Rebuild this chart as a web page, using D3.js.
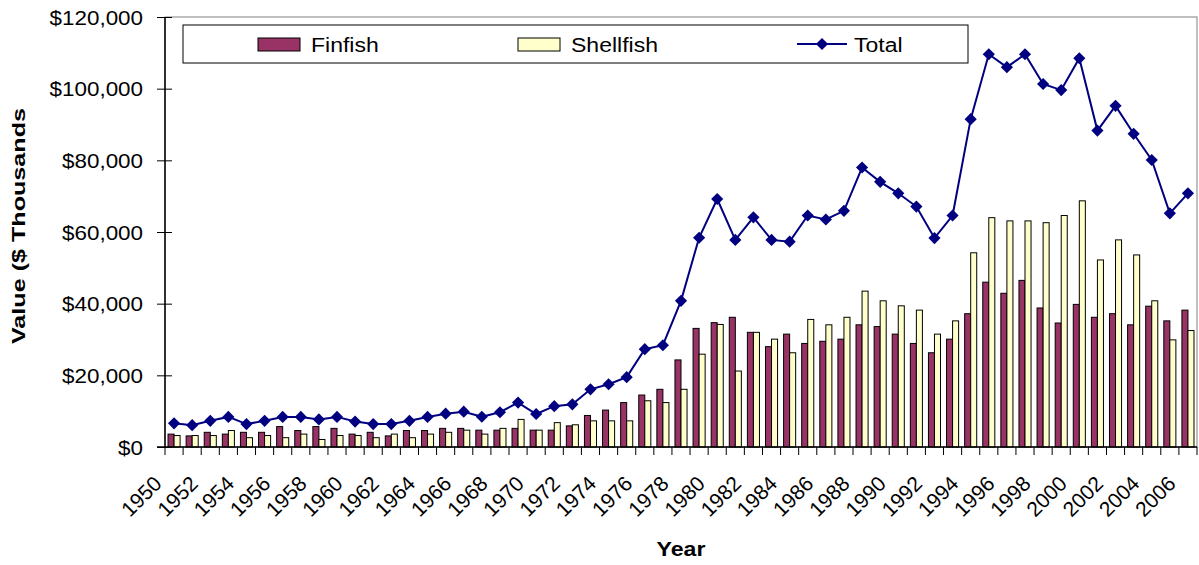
<!DOCTYPE html>
<html><head><meta charset="utf-8">
<script src="https://cdn.jsdelivr.net/npm/d3@7"></script>
<style>
body{margin:0;background:#fff}
svg{display:block}
text{font-family:"Liberation Sans",Arial,sans-serif;fill:#000}
</style>
</head><body>
<svg id="c" width="1199" height="565"></svg>
<script>
const years = [1950,1951,1952,1953,1954,1955,1956,1957,1958,1959,1960,1961,1962,1963,1964,1965,1966,1967,1968,1969,
  1970,1971,1972,1973,1974,1975,1976,1977,1978,1979,1980,1981,1982,1983,1984,1985,1986,1987,1988,1989,
  1990,1991,1992,1993,1994,1995,1996,1997,1998,1999,2000,2001,2002,2003,2004,2005,2006];
const finfish = [3600,3100,4100,3600,4100,4100,5700,4600,5700,5200,3600,4100,3100,4600,4600,5200,
  5200,4700,4700,5200,4700,4700,5900,8800,10300,12400,14500,16100,24300,
  33100,34700,36200,32000,28000,31500,28900,29500,30100,34100,33600,31500,28900,
  26300,30100,37200,46000,42900,46500,38800,34600,39800,36200,37200,34100,39300,35200,38200];
const shellfish = [3200,3200,3200,4600,2600,3200,2600,3600,2100,3200,3200,2600,3600,2600,3600,4100,
  4700,3600,5200,7700,4700,6800,6200,7300,7300,7300,12900,12400,16100,
  25900,34200,21200,32000,30100,26300,35600,34100,36200,43500,40800,39400,38200,
  31500,35200,54200,64000,63100,63100,62600,64600,68700,52200,57800,53600,40800,29900,32500];
const total = [6600,6100,7300,8400,6400,7300,8400,8400,7700,8400,7100,6400,6400,7300,8400,9300,
  9850,8450,9700,12400,9200,11400,11900,16100,17500,19500,27300,28400,40800,
  58400,69200,57800,64100,57800,57300,64600,63500,65900,78000,74000,70800,67100,
  58300,64600,91500,109600,106000,109600,101300,99600,108500,88300,95200,87400,80100,65200,70800];
const yTicks = [0,20000,40000,60000,80000,100000,120000];
const xTickLabels = [1950,1952,1954,1956,1958,1960,1962,1964,1966,1968,1970,1972,1974,1976,1978,
  1980,1982,1984,1986,1988,1990,1992,1994,1996,1998,2000,2002,2004,2006];
const seriesNames = ["Finfish","Shellfish","Total"];
const colors = {Finfish:"#993366", Shellfish:"#FFFFCC", Total:"#000080"};

const svg = d3.select("#c");
const L = 165, R = 1197, T = 17, B = 447;
const x = d3.scaleBand().domain(years).range([L, R]).padding(0);
const xs = d3.scaleBand().domain(["Finfish","Shellfish"]).range([0, x.bandwidth()]).paddingInner(0).paddingOuter(0.5);
const y = d3.scaleLinear().domain([0, 120000]).range([B, T]);

function stretch(sel, f) {
  sel.each(function() {
    const w = this.getComputedTextLength();
    d3.select(this).attr("textLength", w * f).attr("lengthAdjust", "spacingAndGlyphs");
  });
}

// plot area border
svg.append("rect").attr("x", L).attr("y", T).attr("width", R - L).attr("height", B - T)
  .attr("fill", "#fff").attr("stroke", "#808080").attr("stroke-width", 1);

// bars
const barData = [];
years.forEach((yr, i) => {
  barData.push({yr, s: "Finfish", v: finfish[i]});
  barData.push({yr, s: "Shellfish", v: shellfish[i]});
});
svg.append("g").selectAll("rect").data(barData).join("rect")
  .attr("x", d => x(d.yr) + xs(d.s))
  .attr("y", d => y(d.v))
  .attr("width", xs.bandwidth())
  .attr("height", d => B - y(d.v))
  .attr("fill", d => colors[d.s])
  .attr("stroke", "#000").attr("stroke-width", 1);

// total line
const cx = yr => x(yr) + x.bandwidth() / 2;
svg.append("path").datum(years.map((yr, i) => [cx(yr), y(total[i])]))
  .attr("d", d3.line()).attr("fill", "none").attr("stroke", colors.Total).attr("stroke-width", 2);
const diamond = d3.symbol().type(d3.symbolSquare).size(74);
svg.append("g").selectAll("path").data(years).join("path")
  .attr("d", diamond)
  .attr("transform", (yr, i) => `translate(${cx(yr)},${y(total[i])}) rotate(45)`)
  .attr("fill", colors.Total);

// y axis
const yAxis = svg.append("g").attr("transform", `translate(${L},0)`)
  .call(d3.axisLeft(y).tickValues(yTicks).tickSize(8).tickPadding(0).tickFormat(d => "$" + d3.format(",")(d)));
yAxis.select(".domain").attr("stroke", "#000").attr("stroke-width", 1.5).attr("d", `M0,${T}V${B}`);
yAxis.selectAll(".tick line").attr("x1", 7).attr("x2", -8).attr("stroke", "#000");
yAxis.selectAll(".tick text").attr("x", -22).attr("dy", "0.35em")
  .style("font-size", "20px").attr("fill", "#000");
stretch(yAxis.selectAll(".tick text"), 1.12);

// x axis
const xg = svg.append("g");
xg.append("line").attr("x1", L - 8).attr("x2", R).attr("y1", B).attr("y2", B).attr("stroke", "#000").attr("stroke-width", 1.5);
xg.selectAll("line.t").data(years.concat(["end"])).join("line").attr("class", "t")
  .attr("x1", d => d === "end" ? R : x(d)).attr("x2", d => d === "end" ? R : x(d))
  .attr("y1", B).attr("y2", B + 8).attr("stroke", "#000");
xg.selectAll("text").data(xTickLabels).join("text")
  .attr("transform", d => `translate(${cx(d) - 11},${B + 38}) rotate(-45)`)
  .attr("text-anchor", "end").style("font-size", "21px").text(d => d);

// axis titles
svg.append("text").attr("x", 681).attr("y", 556).attr("text-anchor", "middle")
  .style("font-size", "21px").style("font-weight", "bold").text("Year")
  .call(s => stretch(s, 1.1));
svg.append("text").attr("transform", "translate(25,344) rotate(-90)")
  .style("font-size", "18px").style("font-weight", "bold").text("Value ($ Thousands")
  .attr("textLength", 236).attr("lengthAdjust", "spacingAndGlyphs");

// legend
const lg = svg.append("g");
lg.append("rect").attr("x", 183).attr("y", 25).attr("width", 785).attr("height", 38)
  .attr("fill", "#fff").attr("stroke", "#000").attr("stroke-width", 1);
const legPos = {Finfish: 258, Shellfish: 518, Total: 797};
seriesNames.forEach(n => {
  const lx = legPos[n];
  if (n === "Total") {
    lg.append("line").attr("x1", lx).attr("x2", lx + 50).attr("y1", 44).attr("y2", 44)
      .attr("stroke", colors.Total).attr("stroke-width", 2);
    lg.append("path").attr("d", diamond).attr("transform", `translate(${lx + 25},44) rotate(45)`).attr("fill", colors.Total);
  } else {
    lg.append("rect").attr("x", lx).attr("y", 38).attr("width", 42).attr("height", 13)
      .attr("fill", colors[n]).attr("stroke", "#000").attr("stroke-width", 1);
  }
  lg.append("text").attr("x", lx + (n === "Total" ? 57 : 53)).attr("y", 51.5)
    .style("font-size", "20px").text(n).call(s => stretch(s, 1.15));
});
</script>
</body></html>
